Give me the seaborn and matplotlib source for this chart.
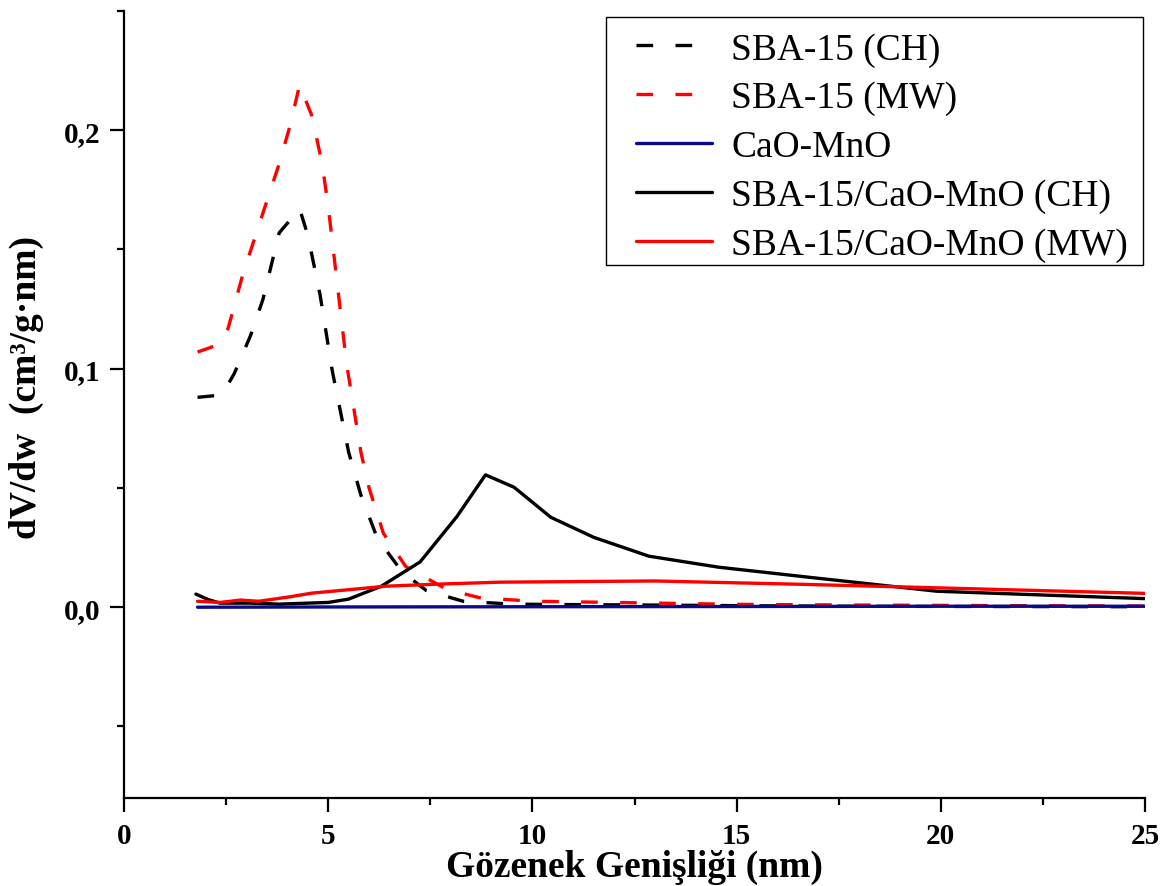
import numpy as np
import pandas as pd
import matplotlib
matplotlib.use("Agg")
import matplotlib.pyplot as plt
from matplotlib.patches import Rectangle
from matplotlib.ticker import MultipleLocator, FuncFormatter
import seaborn as sns

# Pore size distribution (BJH dV/dw) of the samples
sba_ch_x = [1.8, 2.4, 2.7, 3.1, 3.4, 3.8, 4.3, 4.5, 4.8, 5.1, 5.5, 5.8, 6.2, 6.8, 7.4,
            8.3, 9.5, 11.0, 13.0, 15.5, 18.0, 21.0, 25.0]
sba_ch_y = [0.088, 0.089, 0.098, 0.114, 0.129, 0.157, 0.167, 0.156, 0.131, 0.099, 0.065,
            0.047, 0.029, 0.015, 0.007, 0.0025, 0.0013, 0.0011, 0.0009, 0.0006, 0.0004,
            0.0003, 0.0002]

sba_mw_x = [1.8, 2.3, 2.55, 2.9, 3.3, 3.8, 4.05, 4.3, 4.6, 4.85, 5.0, 5.45, 5.8, 6.0,
            6.35, 6.9, 7.9, 8.7, 10.0, 12.0, 15.0, 18.0, 21.0, 25.0]
sba_mw_y = [0.107, 0.110, 0.117, 0.139, 0.160, 0.186, 0.201, 0.219, 0.206, 0.186, 0.168,
            0.102, 0.065, 0.050, 0.031, 0.017, 0.0075, 0.004, 0.0025, 0.002, 0.0012,
            0.0009, 0.0007, 0.0005]

camno_x = [1.8, 5.0, 10.0, 15.0, 20.0, 25.0]
camno_y = [0.0, 0.0001, 0.0002, 0.0003, 0.0004, 0.0004]

comp_ch_x = [1.76, 2.05, 2.35, 3.1, 3.8, 5.0, 5.5, 6.3, 7.25, 8.15, 8.85, 9.55, 10.45,
             11.5, 12.85, 14.55, 16.75, 19.9, 25.0]
comp_ch_y = [0.0055, 0.0033, 0.0017, 0.0017, 0.0013, 0.002, 0.0034, 0.0088, 0.019, 0.038,
             0.0555, 0.0503, 0.0377, 0.0293, 0.0214, 0.0168, 0.0126, 0.0067, 0.0036]

comp_mw_x = [1.8, 2.35, 2.85, 3.3, 4.0, 4.6, 5.6, 6.4, 7.55, 9.2, 13.0, 16.6, 19.3, 25.0]
comp_mw_y = [0.0025, 0.002, 0.003, 0.0025, 0.0042, 0.0059, 0.0075, 0.0088, 0.0096,
             0.0105, 0.011, 0.0096, 0.0084, 0.0058]

labels = ["SBA-15 (CH)", "SBA-15 (MW)", "CaO-MnO",
          "SBA-15/CaO-MnO (CH)", "SBA-15/CaO-MnO (MW)"]
colors = ["black", "#ff0000", "#0a0a8c", "black", "#ff0000"]
dashed = (0, (5.0, 6.7))
styles = [dashed, dashed, "-", "-", "-"]

series = [(sba_ch_x, sba_ch_y), (sba_mw_x, sba_mw_y), (camno_x, camno_y),
          (comp_ch_x, comp_ch_y), (comp_mw_x, comp_mw_y)]

sns.set_style("ticks")
plt.rcParams["font.family"] = ["Liberation Serif", "DejaVu Serif"]
plt.rcParams.update({
    "axes.linewidth": 1.6,
    "axes.edgecolor": "black",
    "axes.labelcolor": "black",
    "text.color": "black",
    "xtick.color": "black",
    "ytick.color": "black",
})

fig = plt.figure(figsize=(11.7, 8.87), dpi=100)
ax = fig.add_axes([0.106, 0.0992, 0.8727, 0.8873])

for (xs, ys), lab, col, ls in zip(series, labels, colors, styles):
    df = pd.DataFrame({"w": xs, "dvdw": ys})
    sns.lineplot(data=df, x="w", y="dvdw", ax=ax, color=col, linestyle=ls,
                 linewidth=2.4, label=lab, estimator=None, sort=False)

ax.set_xlim(0, 25)
ax.set_ylim(-0.08, 0.25)
ax.xaxis.set_major_locator(MultipleLocator(5))
ax.xaxis.set_minor_locator(MultipleLocator(2.5))
ax.yaxis.set_major_locator(MultipleLocator(0.1))
ax.yaxis.set_minor_locator(MultipleLocator(0.05))
ax.yaxis.set_major_formatter(FuncFormatter(lambda v, p: f"{v:.1f}".replace(".", ",")))
ax.xaxis.set_major_formatter(FuncFormatter(lambda v, p: f"{v:g}"))

ax.tick_params(axis="both", which="major", direction="out", length=10, width=1.6,
               labelsize=21, pad=7, colors="black")
ax.tick_params(axis="both", which="minor", direction="out", length=5, width=1.6,
               colors="black")
for t in ax.get_xticklabels() + ax.get_yticklabels():
    t.set_fontweight("bold")

sns.despine(ax=ax)

ax.set_xlabel("Gözenek Genişliği (nm)", fontsize=27, fontweight="bold")
ax.set_ylabel("dV/dw  (cm³/g·nm)", fontsize=27, fontweight="bold")
ax.xaxis.set_label_coords(0.5, -0.064)
ax.yaxis.set_label_coords(-0.078, 0.523)

# Legend without its own frame; a frame with a wider left margin is added below
leg = ax.legend(loc="upper right", bbox_to_anchor=(0.9641, 0.9628),
                bbox_transform=fig.transFigure, fontsize=27, frameon=False,
                handlelength=2.05, handletextpad=0.5, labelspacing=0.38,
                borderpad=0.0, borderaxespad=0.0)
for t in leg.get_texts():
    t.set_color("black")
leg.set_zorder(6)

fig.canvas.draw()
bb = leg.get_window_extent()
pad_l, pad_r, pad_t, pad_b = 30, 15, 15, 3
frame = Rectangle((bb.x0 - pad_l, bb.y0 - pad_b),
                  bb.width + pad_l + pad_r, bb.height + pad_t + pad_b,
                  transform=None, facecolor="white", edgecolor="black",
                  linewidth=1.0, zorder=5, clip_on=False)
ax.add_artist(frame)

fig.savefig("out.png", dpi=100)
